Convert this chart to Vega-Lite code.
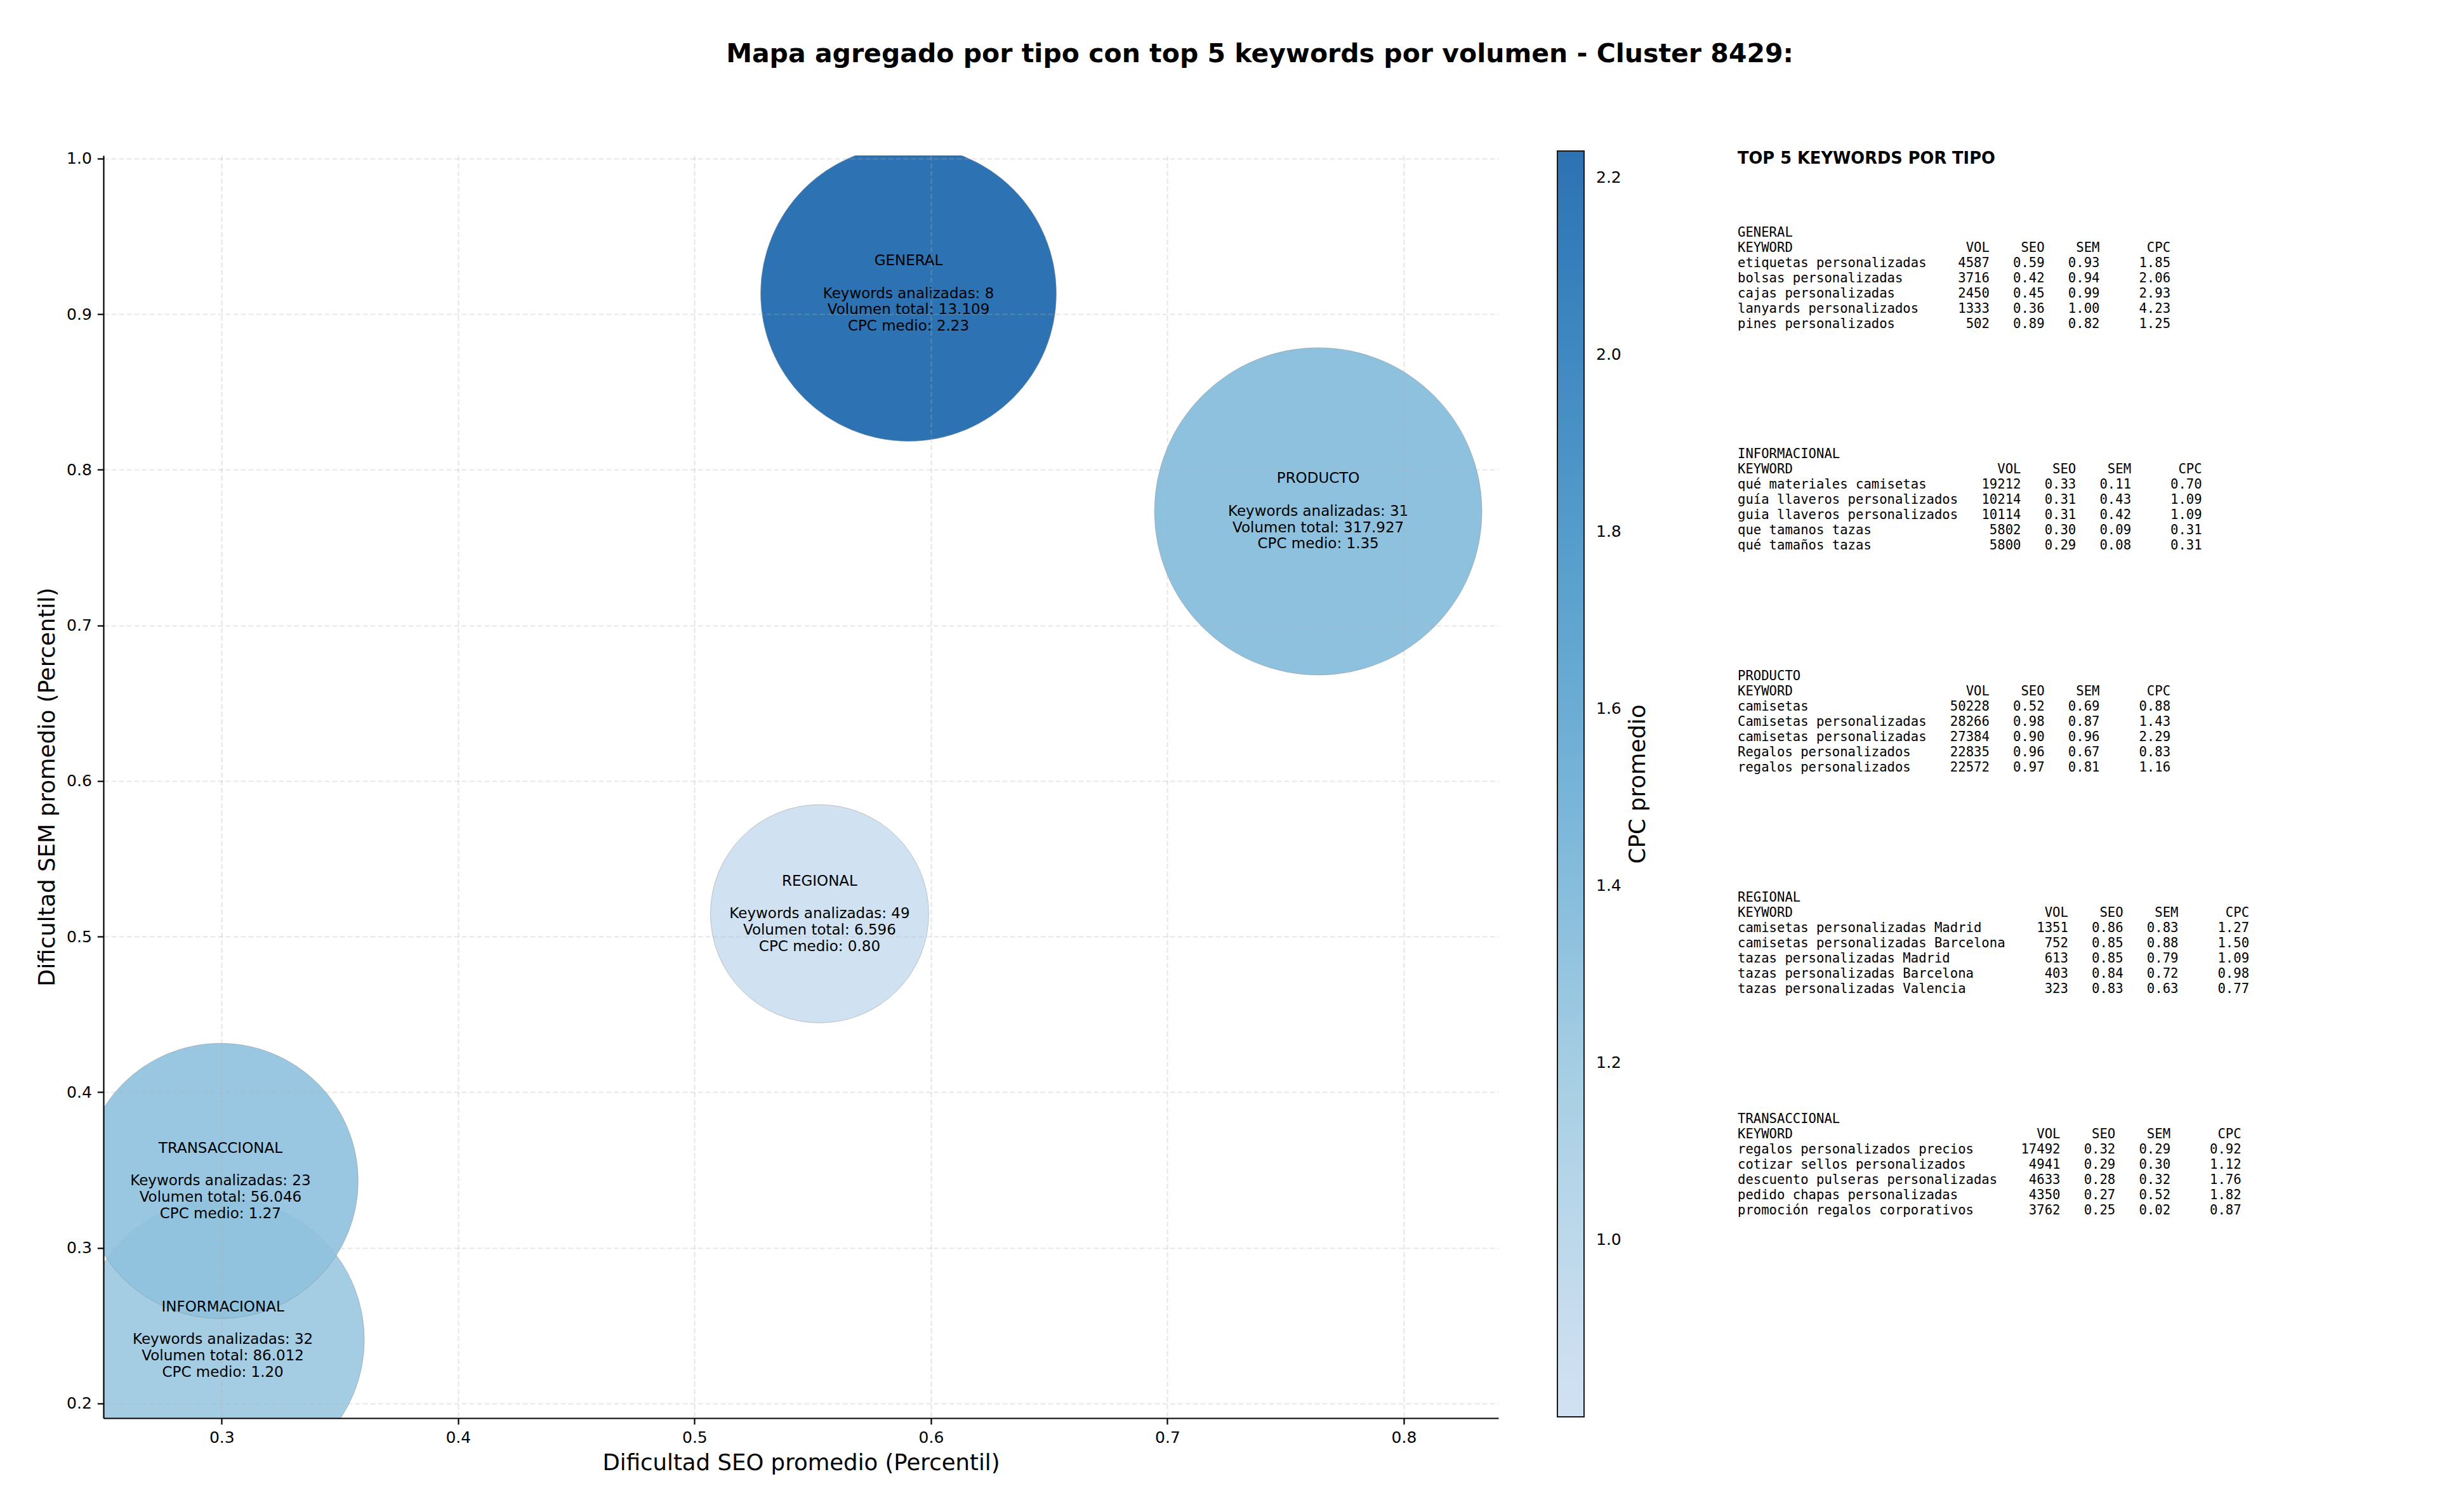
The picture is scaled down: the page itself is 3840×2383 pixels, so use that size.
{
  "$schema": "https://vega.github.io/schema/vega-lite/v6.json",
  "autosize": {"type": "none"},
  "width": 2198,
  "height": 1990,
  "padding": {"left": 163, "top": 245, "right": 1479, "bottom": 148},
  "background": "white",
  "title": {
    "text": "Mapa agregado por tipo con top 5 keywords por volumen - Cluster 8429:",
    "font": "DejaVu Sans", "fontSize": 41, "fontWeight": "bold", "color": "#000000",
    "anchor": "middle", "frame": "group", "dx": 723, "offset": 130
  },
  "config": {
    "view": {"stroke": null},
    "font": "DejaVu Sans"
  },
  "datasets": {
    "tipos": [
      {"tipo": "GENERAL", "seo": 0.5905, "sem": 0.9133, "keywords": 8, "volumen": 13109, "cpc": 2.23},
      {"tipo": "INFORMACIONAL", "seo": 0.3005, "sem": 0.241, "keywords": 32, "volumen": 86012, "cpc": 1.20},
      {"tipo": "PRODUCTO", "seo": 0.7638, "sem": 0.7733, "keywords": 31, "volumen": 317927, "cpc": 1.35},
      {"tipo": "REGIONAL", "seo": 0.5529, "sem": 0.5147, "keywords": 49, "volumen": 6596, "cpc": 0.80},
      {"tipo": "TRANSACCIONAL", "seo": 0.2995, "sem": 0.343, "keywords": 23, "volumen": 56046, "cpc": 1.27}
    ],
    "keywords": [
      {"tipo": "GENERAL", "keyword": "etiquetas personalizadas", "vol": 4587, "seo": 0.59, "sem": 0.93, "cpc": 1.85},
      {"tipo": "GENERAL", "keyword": "bolsas personalizadas", "vol": 3716, "seo": 0.42, "sem": 0.94, "cpc": 2.06},
      {"tipo": "GENERAL", "keyword": "cajas personalizadas", "vol": 2450, "seo": 0.45, "sem": 0.99, "cpc": 2.93},
      {"tipo": "GENERAL", "keyword": "lanyards personalizados", "vol": 1333, "seo": 0.36, "sem": 1.00, "cpc": 4.23},
      {"tipo": "GENERAL", "keyword": "pines personalizados", "vol": 502, "seo": 0.89, "sem": 0.82, "cpc": 1.25},
      {"tipo": "INFORMACIONAL", "keyword": "qué materiales camisetas", "vol": 19212, "seo": 0.33, "sem": 0.11, "cpc": 0.70},
      {"tipo": "INFORMACIONAL", "keyword": "guía llaveros personalizados", "vol": 10214, "seo": 0.31, "sem": 0.43, "cpc": 1.09},
      {"tipo": "INFORMACIONAL", "keyword": "guia llaveros personalizados", "vol": 10114, "seo": 0.31, "sem": 0.42, "cpc": 1.09},
      {"tipo": "INFORMACIONAL", "keyword": "que tamanos tazas", "vol": 5802, "seo": 0.30, "sem": 0.09, "cpc": 0.31},
      {"tipo": "INFORMACIONAL", "keyword": "qué tamaños tazas", "vol": 5800, "seo": 0.29, "sem": 0.08, "cpc": 0.31},
      {"tipo": "PRODUCTO", "keyword": "camisetas", "vol": 50228, "seo": 0.52, "sem": 0.69, "cpc": 0.88},
      {"tipo": "PRODUCTO", "keyword": "Camisetas personalizadas", "vol": 28266, "seo": 0.98, "sem": 0.87, "cpc": 1.43},
      {"tipo": "PRODUCTO", "keyword": "camisetas personalizadas", "vol": 27384, "seo": 0.90, "sem": 0.96, "cpc": 2.29},
      {"tipo": "PRODUCTO", "keyword": "Regalos personalizados", "vol": 22835, "seo": 0.96, "sem": 0.67, "cpc": 0.83},
      {"tipo": "PRODUCTO", "keyword": "regalos personalizados", "vol": 22572, "seo": 0.97, "sem": 0.81, "cpc": 1.16},
      {"tipo": "REGIONAL", "keyword": "camisetas personalizadas Madrid", "vol": 1351, "seo": 0.86, "sem": 0.83, "cpc": 1.27},
      {"tipo": "REGIONAL", "keyword": "camisetas personalizadas Barcelona", "vol": 752, "seo": 0.85, "sem": 0.88, "cpc": 1.50},
      {"tipo": "REGIONAL", "keyword": "tazas personalizadas Madrid", "vol": 613, "seo": 0.85, "sem": 0.79, "cpc": 1.09},
      {"tipo": "REGIONAL", "keyword": "tazas personalizadas Barcelona", "vol": 403, "seo": 0.84, "sem": 0.72, "cpc": 0.98},
      {"tipo": "REGIONAL", "keyword": "tazas personalizadas Valencia", "vol": 323, "seo": 0.83, "sem": 0.63, "cpc": 0.77},
      {"tipo": "TRANSACCIONAL", "keyword": "regalos personalizados precios", "vol": 17492, "seo": 0.32, "sem": 0.29, "cpc": 0.92},
      {"tipo": "TRANSACCIONAL", "keyword": "cotizar sellos personalizados", "vol": 4941, "seo": 0.29, "sem": 0.30, "cpc": 1.12},
      {"tipo": "TRANSACCIONAL", "keyword": "descuento pulseras personalizadas", "vol": 4633, "seo": 0.28, "sem": 0.32, "cpc": 1.76},
      {"tipo": "TRANSACCIONAL", "keyword": "pedido chapas personalizadas", "vol": 4350, "seo": 0.27, "sem": 0.52, "cpc": 1.82},
      {"tipo": "TRANSACCIONAL", "keyword": "promoción regalos corporativos", "vol": 3762, "seo": 0.25, "sem": 0.02, "cpc": 0.87}
    ]
  },
  "resolve": {"scale": {"x": "independent", "y": "independent"}, "axis": {"x": "independent", "y": "independent"}},
  "layer": [
    {
      "data": {"name": "tipos"},
      "transform": [
        {"calculate": "['Keywords analizadas: ' + datum.keywords, 'Volumen total: ' + replace(format(datum.volumen, ','), ',', '.'), 'CPC medio: ' + format(datum.cpc, '.2f')]", "as": "etiqueta"}
      ],
      "encoding": {
        "x": {
          "field": "seo", "type": "quantitative",
          "scale": {"domain": [0.25, 0.84], "nice": false, "zero": false},
          "axis": {
            "title": "Dificultad SEO promedio (Percentil)",
            "values": [0.3, 0.4, 0.5, 0.6, 0.7, 0.8], "format": ".1f",
            "grid": true, "gridDash": [8, 4], "gridColor": "#b0b0b0", "gridOpacity": 0.3, "gridWidth": 2.2,
            "domainColor": "#000000", "domainWidth": 2.2,
            "tickColor": "#000000", "tickWidth": 2.2, "tickSize": 9.7,
            "labelFont": "DejaVu Sans", "labelFontSize": 25, "labelColor": "#000000", "labelPadding": 9, "labelFlush": false,
            "titleFont": "DejaVu Sans", "titleFontSize": 35.5, "titleFontWeight": "normal", "titleColor": "#000000", "titlePadding": 10,
            "zindex": 1
          }
        },
        "y": {
          "field": "sem", "type": "quantitative",
          "scale": {"domain": [0.1906, 1.002], "nice": false, "zero": false},
          "axis": {
            "title": "Dificultad SEM promedio (Percentil)",
            "values": [0.2, 0.3, 0.4, 0.5, 0.6, 0.7, 0.8, 0.9, 1.0], "format": ".1f",
            "grid": true, "gridDash": [8, 4], "gridColor": "#b0b0b0", "gridOpacity": 0.3, "gridWidth": 2.2,
            "domainColor": "#000000", "domainWidth": 2.2,
            "tickColor": "#000000", "tickWidth": 2.2, "tickSize": 9.7,
            "labelFont": "DejaVu Sans", "labelFontSize": 25, "labelColor": "#000000", "labelPadding": 9, "labelFlush": false,
            "titleFont": "DejaVu Sans", "titleFontSize": 35.5, "titleFontWeight": "normal", "titleColor": "#000000", "titlePadding": 12,
            "zindex": 1
          }
        }
      },
      "layer": [
        {
          "mark": {"type": "point", "shape": "circle", "filled": true, "opacity": 0.9, "stroke": "#888888", "strokeWidth": 1, "strokeOpacity": 0.5, "clip": true},
          "encoding": {
            "size": {
              "field": "volumen", "type": "quantitative",
              "scale": {"domain": [6596, 13109, 56046, 86012, 317927], "range": [118336, 217156, 188356, 198916, 266256], "zero": false},
              "legend": null
            },
            "color": {
              "field": "cpc", "type": "quantitative",
              "scale": {
                "domain": [0.80, 0.874, 1.182, 1.4903, 1.7985, 2.1067, 2.23],
                "range": ["#ccdff1", "#c6dbef", "#9ecae1", "#6baed6", "#4292c6", "#2171b5", "#1764ab"],
                "interpolate": "rgb"
              },
              "legend": {
                "orient": "none", "legendX": 2291, "legendY": -7, "direction": "vertical",
                "gradientLength": 1995, "gradientThickness": 42,
                "gradientStrokeColor": "#000000", "gradientStrokeWidth": 2, "gradientOpacity": 0.9,
                "values": [1.0, 1.2, 1.4, 1.6, 1.8, 2.0, 2.2], "format": ".1f",
                "labelFont": "DejaVu Sans", "labelFontSize": 25, "labelColor": "#000000", "labelOffset": 19,
                "title": null
              }
            }
          }
        },
        {
          "mark": {"type": "text", "font": "DejaVu Sans", "fontSize": 23, "align": "center", "baseline": "middle", "color": "#000000", "dy": -51.6},
          "encoding": {"text": {"field": "tipo"}}
        },
        {
          "mark": {"type": "text", "font": "DejaVu Sans", "fontSize": 23, "lineHeight": 25.8, "align": "center", "baseline": "middle", "color": "#000000"},
          "encoding": {"text": {"field": "etiqueta"}}
        }
      ]
    },
    {
      "data": {"name": "keywords"},
      "transform": [
        {"window": [{"op": "row_number", "as": "rank"}], "groupby": ["tipo"], "sort": [{"field": "vol", "order": "descending"}]},
        {"calculate": "length(datum.keyword)", "as": "largo"},
        {"joinaggregate": [{"op": "max", "field": "largo", "as": "maxLen"}], "groupby": ["tipo"]}
      ],
      "encoding": {
        "y": {
          "field": "tipo", "type": "nominal", "bandPosition": 0,
          "scale": {"type": "band", "domain": ["GENERAL", "INFORMACIONAL", "PRODUCTO", "REGIONAL", "TRANSACCIONAL"], "range": [122, 1868.5], "paddingInner": 0, "paddingOuter": 0},
          "axis": null
        }
      },
      "layer": [
        {
          "transform": [{"filter": "datum.rank == 1"}],
          "mark": {"type": "text", "font": "DejaVu Sans Mono", "fontSize": 20.6, "align": "left", "baseline": "middle", "color": "#000000"},
          "encoding": {"x": {"datum": 0, "type": "quantitative", "scale": {"domain": [0, 60], "range": [2575, 3319.1]}, "axis": null}, "text": {"field": "tipo"}}
        },
        {
          "transform": [{"filter": "datum.rank == 1"}],
          "mark": {"type": "text", "font": "DejaVu Sans Mono", "fontSize": 20.6, "align": "left", "baseline": "middle", "color": "#000000", "dy": 24},
          "encoding": {"x": {"datum": 0, "type": "quantitative", "scale": {"domain": [0, 60], "range": [2575, 3319.1]}, "axis": null}, "text": {"value": "KEYWORD"}}
        },
        {
          "transform": [{"filter": "datum.rank == 1"}],
          "mark": {"type": "text", "font": "DejaVu Sans Mono", "fontSize": 20.6, "align": "right", "baseline": "middle", "color": "#000000", "dy": 24, "dx": 99.2},
          "encoding": {"x": {"field": "maxLen", "type": "quantitative", "scale": {"domain": [0, 60], "range": [2575, 3319.1]}, "axis": null}, "text": {"value": "VOL"}}
        },
        {
          "transform": [{"filter": "datum.rank == 1"}],
          "mark": {"type": "text", "font": "DejaVu Sans Mono", "fontSize": 20.6, "align": "right", "baseline": "middle", "color": "#000000", "dy": 24, "dx": 186},
          "encoding": {"x": {"field": "maxLen", "type": "quantitative", "scale": {"domain": [0, 60], "range": [2575, 3319.1]}, "axis": null}, "text": {"value": "SEO"}}
        },
        {
          "transform": [{"filter": "datum.rank == 1"}],
          "mark": {"type": "text", "font": "DejaVu Sans Mono", "fontSize": 20.6, "align": "right", "baseline": "middle", "color": "#000000", "dy": 24, "dx": 272.8},
          "encoding": {"x": {"field": "maxLen", "type": "quantitative", "scale": {"domain": [0, 60], "range": [2575, 3319.1]}, "axis": null}, "text": {"value": "SEM"}}
        },
        {
          "transform": [{"filter": "datum.rank == 1"}],
          "mark": {"type": "text", "font": "DejaVu Sans Mono", "fontSize": 20.6, "align": "right", "baseline": "middle", "color": "#000000", "dy": 24, "dx": 384.4},
          "encoding": {"x": {"field": "maxLen", "type": "quantitative", "scale": {"domain": [0, 60], "range": [2575, 3319.1]}, "axis": null}, "text": {"value": "CPC"}}
        },
        {
          "mark": {"type": "text", "font": "DejaVu Sans Mono", "fontSize": 20.6, "align": "left", "baseline": "middle", "color": "#000000"},
          "encoding": {
            "x": {"datum": 0, "type": "quantitative", "scale": {"domain": [0, 60], "range": [2575, 3319.1]}, "axis": null},
            "yOffset": {"field": "rank", "type": "ordinal", "scale": {"type": "point", "domain": [1, 2, 3, 4, 5], "range": [48, 144], "padding": 0}},
            "text": {"field": "keyword"}
          }
        },
        {
          "mark": {"type": "text", "font": "DejaVu Sans Mono", "fontSize": 20.6, "align": "right", "baseline": "middle", "color": "#000000", "dx": 99.2},
          "encoding": {
            "x": {"field": "maxLen", "type": "quantitative", "scale": {"domain": [0, 60], "range": [2575, 3319.1]}, "axis": null},
            "yOffset": {"field": "rank", "type": "ordinal", "scale": {"type": "point", "domain": [1, 2, 3, 4, 5], "range": [48, 144], "padding": 0}},
            "text": {"field": "vol", "type": "quantitative", "format": "d"}
          }
        },
        {
          "mark": {"type": "text", "font": "DejaVu Sans Mono", "fontSize": 20.6, "align": "right", "baseline": "middle", "color": "#000000", "dx": 186},
          "encoding": {
            "x": {"field": "maxLen", "type": "quantitative", "scale": {"domain": [0, 60], "range": [2575, 3319.1]}, "axis": null},
            "yOffset": {"field": "rank", "type": "ordinal", "scale": {"type": "point", "domain": [1, 2, 3, 4, 5], "range": [48, 144], "padding": 0}},
            "text": {"field": "seo", "type": "quantitative", "format": ".2f"}
          }
        },
        {
          "mark": {"type": "text", "font": "DejaVu Sans Mono", "fontSize": 20.6, "align": "right", "baseline": "middle", "color": "#000000", "dx": 272.8},
          "encoding": {
            "x": {"field": "maxLen", "type": "quantitative", "scale": {"domain": [0, 60], "range": [2575, 3319.1]}, "axis": null},
            "yOffset": {"field": "rank", "type": "ordinal", "scale": {"type": "point", "domain": [1, 2, 3, 4, 5], "range": [48, 144], "padding": 0}},
            "text": {"field": "sem", "type": "quantitative", "format": ".2f"}
          }
        },
        {
          "mark": {"type": "text", "font": "DejaVu Sans Mono", "fontSize": 20.6, "align": "right", "baseline": "middle", "color": "#000000", "dx": 384.4},
          "encoding": {
            "x": {"field": "maxLen", "type": "quantitative", "scale": {"domain": [0, 60], "range": [2575, 3319.1]}, "axis": null},
            "yOffset": {"field": "rank", "type": "ordinal", "scale": {"type": "point", "domain": [1, 2, 3, 4, 5], "range": [48, 144], "padding": 0}},
            "text": {"field": "cpc", "type": "quantitative", "format": ".2f"}
          }
        }
      ]
    },
    {
      "data": {"values": [{"titulo": "TOP 5 KEYWORDS POR TIPO"}]},
      "mark": {"type": "text", "font": "DejaVu Sans", "fontWeight": "bold", "fontSize": 25.7, "align": "left", "baseline": "middle", "color": "#000000", "dy": -117},
      "encoding": {
        "x": {"datum": 0, "type": "quantitative", "scale": {"domain": [0, 60], "range": [2575, 3319.1]}, "axis": null},
        "y": {"datum": "GENERAL", "type": "nominal", "bandPosition": 0, "scale": {"type": "band", "domain": ["GENERAL", "INFORMACIONAL", "PRODUCTO", "REGIONAL", "TRANSACCIONAL"], "range": [122, 1868.5], "paddingInner": 0, "paddingOuter": 0}, "axis": null},
        "text": {"field": "titulo"}
      }
    },
    {
      "data": {"values": [{"titulo": "CPC promedio"}]},
      "mark": {"type": "text", "font": "DejaVu Sans", "fontSize": 35.5, "align": "center", "baseline": "middle", "color": "#000000", "angle": 270},
      "encoding": {
        "x": {"datum": 0.8991, "type": "quantitative", "scale": {"domain": [0.25, 0.84], "nice": false, "zero": false}, "axis": null},
        "y": {"datum": 0.598, "type": "quantitative", "scale": {"domain": [0.1906, 1.002], "nice": false, "zero": false}, "axis": null},
        "text": {"field": "titulo"}
      }
    }
  ]
}
